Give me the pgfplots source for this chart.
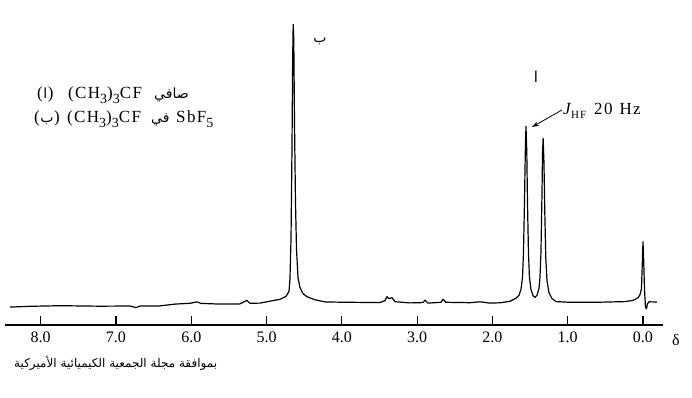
\documentclass[border=0pt]{standalone}
\usepackage{fontspec}
\setmainfont{Liberation Serif}
\newfontfamily\legfont[LetterSpace=8]{Liberation Serif}
\newfontfamily\arabicfont[Script=Arabic]{DejaVu Sans}
\usepackage{pgfplots}
\usepackage{pgfplotstable}
\usetikzlibrary{arrows.meta}
\pgfplotsset{compat=1.18}
\TeXXeTstate=1
\newcommand\sub[1]{\raisebox{-0.25em}{\fontsize{14}{14}\selectfont #1}}

\pgfplotstableread{
x y
8.407 17.9
8.142 18.7
7.743 19.3
7.212 18.8
6.814 19.0
6.734 17.4
6.681 18.9
6.415 19.1
6.216 20.9
6.017 21.7
5.924 23.1
5.871 21.6
5.618 20.9
5.353 21.1
5.300 23.1
5.260 24.6
5.220 21.7
5.087 21.9
4.954 23.8
4.821 25.7
4.742 28.6
4.702 33.5
4.689 45.5
4.675 85.5
4.662 175.5
4.653 265.5
4.646 300.5
4.638 285.5
4.629 205.5
4.616 125.5
4.602 75.5
4.582 47.5
4.556 37.5
4.516 31.4
4.463 28.3
4.356 25.2
4.224 23.1
4.024 22.8
3.493 22.4
3.427 24.4
3.400 28.4
3.374 26.3
3.334 27.3
3.294 23.3
3.095 22.1
2.922 22.4
2.895 24.9
2.856 21.9
2.683 22.7
2.656 25.7
2.617 22.7
2.298 22.3
2.165 23.2
2.032 21.9
1.899 22.2
1.767 23.7
1.687 26.7
1.647 29.7
1.620 35.7
1.600 47.7
1.587 72.7
1.574 122.7
1.563 172.7
1.554 198.7
1.543 172.7
1.534 122.7
1.521 72.7
1.508 47.7
1.488 35.7
1.461 29.6
1.434 27.6
1.408 29.6
1.381 36.5
1.368 47.5
1.355 72.5
1.341 132.5
1.334 172.5
1.326 186.5
1.315 162.5
1.304 112.5
1.291 67.5
1.275 44.5
1.249 32.5
1.209 26.5
1.156 23.4
0.970 22.7
0.571 22.8
0.239 23.4
0.133 24.6
0.066 27.2
0.040 30.2
0.020 36.2
0.009 61.2
0.000 83.2
-0.009 66.2
-0.020 36.2
-0.033 18.2
-0.046 16.2
-0.060 21.2
-0.080 23.2
-0.186 23.0
}\spec

\begin{document}
\begin{tikzpicture}
\useasboundingbox (-5pt,-73pt) rectangle (687pt,325pt);
\begin{axis}[
  at={(0pt,0pt)}, anchor=south west,
  scale only axis, width=658pt, height=315pt,
  xmin=-0.266, xmax=8.474, ymin=0, ymax=315,
  x dir=reverse,
  axis x line*=bottom, axis y line=none,
  xtick={0,1,2,3,4,5,6,7,8},
  tick align=inside, major tick length=9pt,
  axis line style={line width=1.1pt, black},
  tick style={line width=1.1pt, black},
  /pgf/number format/assume math mode=true,
  xticklabel style={font=\fontsize{16}{16}\selectfont, yshift=-3pt,
    /pgf/number format/.cd, fixed, fixed zerofill, precision=1, /tikz/.cd},
  clip=false,
]
\addplot[black, line width=1.2pt, line join=round, mark=none] table[x=x,y=y] {\spec};
\end{axis}
% legend
\node[anchor=base west, inner sep=0] at (32pt,226pt) {\fontsize{17}{17}\selectfont(\hspace{0.5pt}{\arabicfont\fontsize{14}{14}\selectfont ا}\hspace{0.5pt})};
\node[anchor=base west, inner sep=0] at (63pt,226pt) {\legfont\fontsize{17}{17}\selectfont (CH\sub{3})\sub{3}CF};
\node[anchor=base west, inner sep=0] at (149pt,226pt) {\arabicfont\fontsize{14}{14}\selectfont\beginR صافي\endR};
\node[anchor=base west, inner sep=0] at (29pt,202pt) {\fontsize{17}{17}\selectfont(\hspace{0.5pt}{\arabicfont\fontsize{14}{14}\selectfont ب}\hspace{0.5pt})};
\node[anchor=base west, inner sep=0] at (62pt,202pt) {\legfont\fontsize{17}{17}\selectfont (CH\sub{3})\sub{3}CF};
\node[anchor=base west, inner sep=0] at (146pt,202pt) {\arabicfont\fontsize{14}{14}\selectfont\beginR في\endR};
\node[anchor=base west, inner sep=0] at (171pt,202pt) {\legfont\fontsize{17}{17}\selectfont SbF\sub{5}};
% peak labels
\node[inner sep=0] at (315pt,284pt) {\arabicfont\fontsize{14}{14}\selectfont ب};
\node[inner sep=0] at (531pt,248pt) {\arabicfont\fontsize{15}{15}\selectfont ا};
\node[anchor=base west, inner sep=0] at (558pt,210pt) {\fontsize{17}{17}\selectfont\textit{J}};
\node[anchor=base west, inner sep=0] at (566pt,206pt) {\legfont\fontsize{11}{11}\selectfont HF};
\node[anchor=base west, inner sep=0] at (589pt,210pt) {\legfont\fontsize{17}{17}\selectfont 20\hspace{7pt}Hz};
\draw[-{Stealth[length=7pt,width=4.5pt]}, line width=0.8pt] (557pt,215pt) -- (527pt,198pt);
% delta
\node[anchor=base west, inner sep=0] at (667pt,-20pt) {\fontsize{16}{16}\selectfont δ};
% caption
\node[anchor=base west, inner sep=0] at (9pt,-42pt) {\arabicfont\fontsize{12}{12}\selectfont\beginR بموافقة مجلة الجمعية الكيميائية الأميركية\endR};
\end{tikzpicture}
\end{document}
